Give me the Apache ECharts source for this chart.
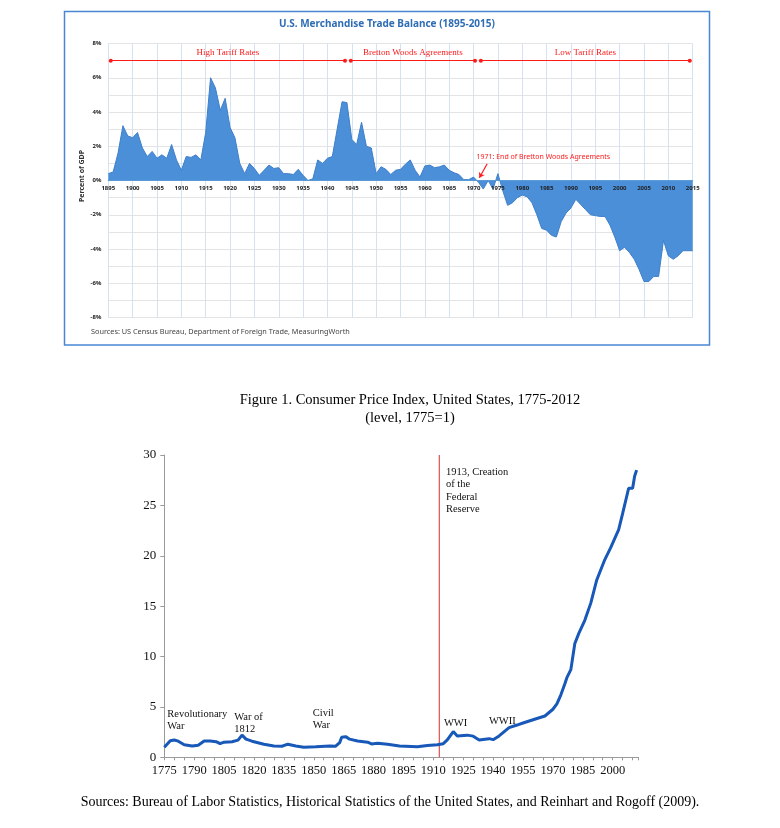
<!DOCTYPE html>
<html><head><meta charset="utf-8">
<script src="https://cdn.jsdelivr.net/npm/echarts@6/dist/echarts.min.js"></script>
<style>html,body{margin:0;padding:0;background:#fff}#c{width:780px;height:828px}</style>
</head><body><div id="c"></div>
<script>
// ---------- Top chart: U.S. Merchandise Trade Balance (% of GDP) ----------
const tradeStartYear = 1895;
const tradeValues = [
  0.4,0.5,1.6,3.2,2.6,2.5,2.8,1.9,1.4,1.7,
  1.3,1.5,1.3,2.1,1.2,0.6,1.4,1.35,1.5,1.2,
  2.8,6.0,5.4,4.1,4.8,3.1,2.5,1.0,0.4,1.0,
  0.7,0.3,0.6,0.9,0.7,0.75,0.4,0.4,0.35,0.65,
  0.3,0.0,0.1,1.2,1.0,1.3,1.4,3.0,4.6,4.55,
  2.4,2.1,3.4,2.0,1.9,0.4,0.8,0.65,0.35,0.6,
  0.65,0.95,1.2,0.6,0.2,0.85,0.9,0.75,0.8,0.9,
  0.6,0.45,0.35,0.05,0.05,0.2,-0.1,-0.5,0.0,-0.5,
  0.4,-0.6,-1.45,-1.3,-1.0,-0.85,-0.95,-1.3,-2.0,-2.8,
  -2.9,-3.2,-3.3,-2.4,-1.9,-1.6,-1.1,-1.4,-1.7,-2.0,
  -2.05,-2.1,-2.1,-2.6,-3.3,-4.1,-3.9,-4.2,-4.6,-5.2,
  -5.9,-5.9,-5.6,-5.6,-3.5,-4.4,-4.6,-4.4,-4.1,-4.1,
  -4.1
];
const tradeYears = tradeValues.map((v, i) => tradeStartYear + i);
const eraNames = ['High Tariff Rates', 'Bretton Woods Agreements', 'Low Tariff Rates'];
const eraStart = [1895.5, 1944.8, 1971.5];
const eraEnd = [1943.6, 1970.3, 2014.4];
const eraLevel = 7;
const tradeNote = '1971: End of Bretton Woods Agreements';
const tradeNoteAt = [1970.6, 1.38];
const tradeArrowFrom = [1972.8, 0.98];
const tradeArrowTo = [1971.2, 0.16];

// ---------- Bottom chart: CPI level, 1775 = 1 ----------
const cpiYears = [1775,1778,1780,1781,1782,1785,1789,1792,1795,1798,1801,1803,1805,1809,1812,
  1814,1816,1819,1822,1825,1830,1834,1837,1841,1845,1851,1858,1861,1863,1864,
  1866,1868,1872,1877,1879,1882,1887,1893,1902,1907,1912,1915,1917,1920,1922,
  1927,1930,1933,1938,1940,1943,1948,1952,1955,1962,1966,1970,1972,1974,1976,
  1977,1979,1981,1983,1986,1989,1992,1996,1999,2003,2005,2008,2010,2011,2012];
const cpiLevels = [1.0,1.65,1.72,1.55,1.6,1.25,1.12,1.2,1.62,1.62,1.55,1.35,1.5,1.55,1.7,
  2.2,1.8,1.6,1.45,1.3,1.12,1.1,1.3,1.12,1.0,1.05,1.12,1.1,1.45,2.0,
  2.05,1.8,1.62,1.5,1.33,1.4,1.3,1.12,1.05,1.18,1.25,1.35,1.72,2.55,2.12,
  2.2,2.1,1.72,1.85,1.75,2.12,2.95,3.2,3.4,3.85,4.1,4.77,5.3,6.2,7.3,
  7.9,8.7,11.3,12.3,13.6,15.3,17.6,19.6,20.8,22.6,24.2,26.7,26.7,27.9,28.5];
const fedYear = 1913;
const cpiAxisMin = 0, cpiAxisMax = 30;
const cpiNotes = ['Revolutionary\nWar', 'War of\n1812', 'Civil\nWar', 'WWI', 'WWII', '1913, Creation\nof the\nFederal\nReserve'];
const cpiNoteYears = [1776.5, 1810.1, 1849.5, 1915.3, 1937.9, 1916.3];
const cpiNoteLevels = [4.9, 4.63, 5.02, 4.03, 4.2, 28.9];

const SANS = '"Noto Sans", "Liberation Sans", sans-serif';
const SERIF = '"Liberation Serif", "DejaVu Serif", serif';

const chart = echarts.init(document.getElementById('c'), null, {renderer: 'canvas'});

const eraMarks = eraNames.map((n, i) => [
  {name: n, coord: [eraStart[i], eraLevel]},
  {coord: [eraEnd[i], eraLevel]}
]);

const option = {
  animation: false,
  backgroundColor: '#fff',
  grid: [
    {left: 108.3, right: 87.3, top: 43.5, bottom: 510.5},
    {left: 164.3, right: 141.4, top: 455, bottom: 70.7},
    {left: 108.3, right: 87.3, top: 43.5, bottom: 647.3}
  ],
  xAxis: [
    {gridIndex: 0, type: 'value', min: 1895, max: 2015, interval: 5,
     axisLine: {show: false, onZero: false}, axisTick: {show: false}, axisLabel: {show: false},
     splitLine: {show: true, lineStyle: {color: '#D3E3F4', width: 1}}},
    {gridIndex: 2, type: 'value', min: 1895, max: 2015, interval: 5, position: 'bottom', z: 5,
     axisLine: {show: true, onZero: false, lineStyle: {color: '#5B9BD5', width: 1}},
     axisTick: {show: false},
     axisLabel: {fontSize: 6, fontWeight: 'bold', color: '#222', margin: 5, fontFamily: SANS,
       formatter: v => String(v)},
     splitLine: {show: false}},
    {gridIndex: 1, type: 'value', min: 1775, max: 2013, interval: 5,
     axisLine: {show: true, onZero: false, lineStyle: {color: '#9a9a9a', width: 1}},
     axisTick: {show: true, length: 3, lineStyle: {color: '#9a9a9a'}},
     axisLabel: {fontSize: 12.5, color: '#111', margin: 7, fontFamily: SERIF,
       formatter: v => ((v - 1775) % 15 === 0 ? String(v) : '')},
     splitLine: {show: false}}
  ],
  yAxis: [
    {gridIndex: 0, type: 'value', min: -8, max: 8, interval: 1,
     axisLine: {show: false}, axisTick: {show: false},
     axisLabel: {fontSize: 6, fontWeight: 'bold', color: '#222', margin: 7, fontFamily: SANS,
       formatter: v => (Math.round(v) % 2 === 0 ? Math.round(v) + '%' : '')},
     splitLine: {show: true, lineStyle: {color: '#E4E4E4', width: 1}}},
    {gridIndex: 1, type: 'value', min: cpiAxisMin, max: cpiAxisMax, interval: 5,
     axisLine: {show: true, lineStyle: {color: '#9a9a9a', width: 1}},
     axisTick: {show: true, length: 4, lineStyle: {color: '#9a9a9a'}},
     axisLabel: {fontSize: 13, color: '#111', margin: 8, fontFamily: SERIF},
     splitLine: {show: false}},
    {gridIndex: 2, type: 'value', min: 0, max: 1, show: false}
  ],
  series: [
    {type: 'line', xAxisIndex: 0, yAxisIndex: 0, z: 2,
     data: tradeYears.map((y, i) => [y, tradeValues[i]]),
     symbol: 'none', smooth: false,
     lineStyle: {color: '#3E7FCB', width: 1},
     areaStyle: {color: '#4A8FD8', opacity: 1},
     markLine: {silent: true, animation: false, symbol: ['circle', 'circle'], symbolSize: 4,
       lineStyle: {color: '#FF1A1A', width: 1.2, type: 'solid'},
       label: {show: true, position: 'middle', formatter: '{b}', color: '#FF1A1A',
         fontFamily: SERIF, fontSize: 9, distance: 3},
       data: eraMarks.concat([[
         {coord: tradeArrowFrom, symbol: 'none', label: {show: false}},
         {coord: tradeArrowTo, symbol: 'arrow', symbolSize: 5}
       ]])
     }
    },
    {type: 'line', xAxisIndex: 2, yAxisIndex: 1, z: 2, silent: true,
     data: [[fedYear, cpiAxisMin], [fedYear, cpiAxisMax]],
     symbol: 'none', lineStyle: {color: '#D9534F', width: 1.2, type: 'solid'},
     itemStyle: {color: '#D9534F'}},
    {type: 'line', xAxisIndex: 2, yAxisIndex: 1, z: 3,
     data: cpiYears.map((y, i) => [y, cpiLevels[i]]),
     symbol: 'none', smooth: false,
     lineStyle: {color: '#1758B8', width: 3}}
  ]
};
chart.setOption(option);

const g = [];
g.push({type: 'rect', shape: {x: 64.5, y: 11.5, width: 645, height: 333.5},
  style: {fill: 'none', stroke: '#4A86D4', lineWidth: 1.5}});
g.push({type: 'text', x: 387, y: 24, style: {text: 'U.S. Merchandise Trade Balance (1895-2015)',
  font: 'bold 10px ' + SANS, fill: '#2E6DB4', align: 'center', verticalAlign: 'middle'}});
g.push({type: 'text', x: 82, y: 176, rotation: Math.PI / 2, style: {text: 'Percent of GDP',
  font: 'bold 7px ' + SANS, fill: '#333', align: 'center', verticalAlign: 'middle'}});
g.push({type: 'text', x: 91, y: 332, style: {text: 'Sources: US Census Bureau, Department of Foreign Trade, MeasuringWorth',
  font: '7.3px ' + SANS, fill: '#444', align: 'left', verticalAlign: 'middle'}});
const tn = chart.convertToPixel({seriesIndex: 0}, tradeNoteAt);
g.push({type: 'text', x: tn[0], y: tn[1], z: 10, style: {text: tradeNote,
  font: '7px ' + SANS, fill: '#FF1A1A', align: 'left', verticalAlign: 'middle'}});
g.push({type: 'text', x: 410, y: 400, style: {text: 'Figure 1. Consumer Price Index, United States, 1775-2012',
  font: '14.5px ' + SERIF, fill: '#000', align: 'center', verticalAlign: 'middle'}});
g.push({type: 'text', x: 410, y: 418, style: {text: '(level, 1775=1)',
  font: '14.5px ' + SERIF, fill: '#000', align: 'center', verticalAlign: 'middle'}});
g.push({type: 'text', x: 390, y: 802, style: {text: 'Sources: Bureau of Labor Statistics, Historical Statistics of the United States, and Reinhart and Rogoff (2009).',
  font: '14px ' + SERIF, fill: '#000', align: 'center', verticalAlign: 'middle'}});
cpiNotes.forEach((t, i) => {
  const p = chart.convertToPixel({seriesIndex: 2}, [cpiNoteYears[i], cpiNoteLevels[i]]);
  g.push({type: 'text', x: p[0], y: p[1], z: 10, style: {text: t,
    font: '10.5px ' + SERIF, fill: '#111', align: 'left', verticalAlign: 'top', lineHeight: 12.3}});
});
chart.setOption({graphic: g});
</script>
</body></html>
